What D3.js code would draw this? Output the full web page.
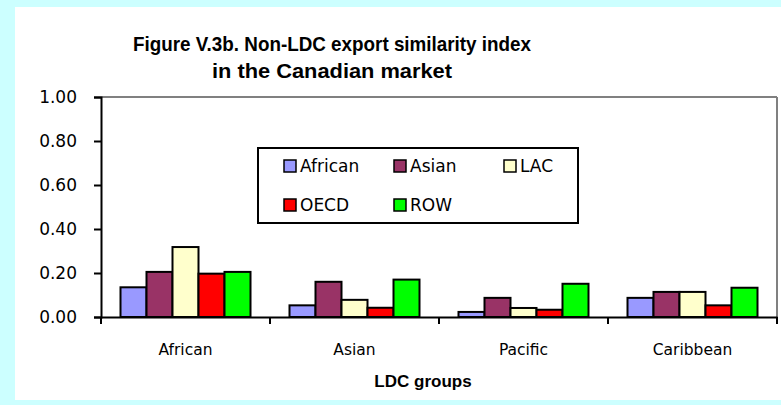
<!DOCTYPE html>
<html><head><meta charset="utf-8">
<script src="https://cdn.jsdelivr.net/npm/d3@7"></script>
<style>body{margin:0;background:#CCFFFF;}svg{display:block;}</style>
</head><body><svg id="c" width="781" height="405"></svg>
<script>
const categories = ["African", "Asian", "Pacific", "Caribbean"];
const seriesNames = ["African", "Asian", "LAC", "OECD", "ROW"];
const seriesColors = ["#9999FF", "#993366", "#FFFFCC", "#FF0000", "#00FF00"];
const valAfrican = [0.135, 0.053, 0.023, 0.087];
const valAsian = [0.205, 0.160, 0.087, 0.114];
const valLAC = [0.318, 0.078, 0.041, 0.114];
const valOECD = [0.197, 0.042, 0.033, 0.053];
const valROW = [0.205, 0.170, 0.151, 0.133];
const yTicks = [0, 0.2, 0.4, 0.6, 0.8, 1.0];
const titleLines = ["Figure V.3b. Non-LDC export similarity index", "in the Canadian market"];
const xTitle = "LDC groups";

const seriesVals = [valAfrican, valAsian, valLAC, valOECD, valROW];
const svg = d3.select("#c");
svg.append("rect").attr("x",15).attr("y",7).attr("width",766).attr("height",393).attr("fill","#fff");

const L=101, R=777, T=97, B=317;
const x0 = d3.scaleBand().domain(categories).range([L,R]).paddingInner(0).paddingOuter(0);
const x1 = d3.scaleBand().domain(seriesNames).range([0,x0.bandwidth()]).paddingOuter(0.75).paddingInner(0);
const y = d3.scaleLinear().domain([0,1]).range([B,T]);

// title
const tf = "Liberation Sans, Arial, sans-serif";
svg.append("text").attr("x",332).attr("y",51).attr("text-anchor","middle")
  .attr("font-family",tf).attr("font-weight","bold").attr("font-size",21)
  .attr("textLength",398).attr("lengthAdjust","spacingAndGlyphs").text(titleLines[0]);
svg.append("text").attr("x",332).attr("y",78).attr("text-anchor","middle")
  .attr("font-family",tf).attr("font-weight","bold").attr("font-size",21)
  .attr("textLength",240).attr("lengthAdjust","spacingAndGlyphs").text(titleLines[1]);

// plot border top/right
svg.append("line").attr("x1",L).attr("x2",R).attr("y1",T).attr("y2",T).attr("stroke","#808080").attr("stroke-width",2);
svg.append("line").attr("x1",R).attr("x2",R).attr("y1",T).attr("y2",B).attr("stroke","#808080").attr("stroke-width",2);

// bars
categories.forEach((c,ci)=>{
  seriesNames.forEach((s,si)=>{
    const v = seriesVals[si][ci];
    svg.append("rect").attr("x",x0(c)+x1(s)).attr("y",y(v)).attr("width",x1.bandwidth()).attr("height",y(0)-y(v))
      .attr("fill",seriesColors[si]).attr("stroke","#000").attr("stroke-width",2);
  });
});

// y axis
const ya = svg.append("g").attr("transform",`translate(${L},0)`)
  .call(d3.axisLeft(y).tickValues(yTicks).tickFormat(d3.format(".2f")).tickSize(7).tickPadding(17));
ya.select(".domain").attr("stroke","#000").attr("stroke-width",2);
ya.selectAll(".tick line").attr("stroke","#000").attr("stroke-width",2);
ya.selectAll("text").attr("font-family","DejaVu Sans, sans-serif").attr("font-size",17).attr("fill","#000");

// x axis
const xa = svg.append("g").attr("transform",`translate(0,${B})`)
  .call(d3.axisBottom(x0).tickSize(0).tickPadding(27));
xa.select(".domain").attr("stroke","#000").attr("stroke-width",2);
xa.selectAll("text").attr("font-family","DejaVu Sans, sans-serif").attr("font-size",15.5).attr("fill","#000");
const bounds = categories.map(c=>x0(c)).concat([R]);
xa.selectAll(".bt").data(bounds).enter().append("line").attr("class","bt")
  .attr("x1",d=>d).attr("x2",d=>d).attr("y1",0).attr("y2",7).attr("stroke","#000").attr("stroke-width",2);

svg.append("text").attr("x",423).attr("y",387).attr("text-anchor","middle")
  .attr("font-family",tf).attr("font-weight","bold").attr("font-size",17).text(xTitle);

// legend
const lg = svg.append("g");
lg.append("rect").attr("x",258).attr("y",148).attr("width",320).attr("height",75).attr("fill","#fff").attr("stroke","#000").attr("stroke-width",2);
seriesNames.forEach((s,i)=>{
  const col=i%3, row=Math.floor(i/3);
  const sx = 284 + col*110, sy = 166 + row*39;
  lg.append("rect").attr("x",sx).attr("y",sy-6).attr("width",12).attr("height",12).attr("fill",seriesColors[i]).attr("stroke","#000").attr("stroke-width",1.5);
  lg.append("text").attr("x",sx+16).attr("y",sy+6).attr("font-family","DejaVu Sans, sans-serif").attr("font-size",17).text(s);
});
</script></body></html>
